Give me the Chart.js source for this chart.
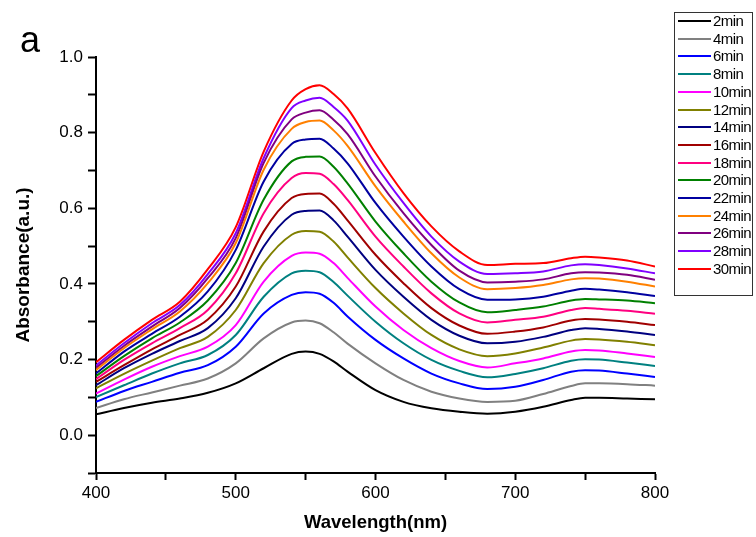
<!DOCTYPE html>
<html>
<head>
<meta charset="utf-8">
<title>Absorbance spectra</title>
<script src="https://cdn.jsdelivr.net/npm/chart.js@4.4.1/dist/chart.umd.min.js"></script>
<style>
  body { margin: 0; background: #fff; }
  #wrap { position: relative; width: 756px; height: 537px; font-family: "Liberation Sans", Arial, sans-serif; }
  #panel { position: absolute; left: 20px; top: 20px; font-size: 36px; line-height: 40px; color: #000; }
  #legend { position: absolute; left: 674px; top: 12px; width: 79px; height: 284px; border: 1px solid #333; box-sizing: border-box; }
  .row { position: absolute; left: 0; height: 18px; width: 80px; }
  .row span.ln { position: absolute; left: 3px; top: 8px; width: 33px; height: 2px; }
  .row span.tx { position: absolute; left: 38px; top: 0; font-size: 15px; line-height: 18px; letter-spacing: -0.55px; color: #000; }
</style>
</head>
<body>
<div id="wrap">
  <canvas id="spectra" width="756" height="537"></canvas>
  <div id="panel">a</div>
  <div id="legend"></div>
</div>
<script>
// wavelength grid (nm)
const wavelengths = [400, 420, 440, 460, 480, 500, 520, 540, 550, 560, 570, 580, 600, 620, 640, 660, 680, 700, 720, 740, 750, 760, 780, 800];

// absorbance, one list per reaction time
const abs2min  = [0.055, 0.072, 0.086, 0.097, 0.112, 0.137, 0.177, 0.215, 0.221, 0.215, 0.195, 0.168, 0.119, 0.088, 0.071, 0.062, 0.057, 0.062, 0.075, 0.093, 0.099, 0.099, 0.097, 0.095];
const abs4min  = [0.072, 0.095, 0.113, 0.131, 0.150, 0.190, 0.256, 0.298, 0.303, 0.296, 0.272, 0.242, 0.190, 0.146, 0.115, 0.097, 0.088, 0.091, 0.109, 0.130, 0.137, 0.137, 0.135, 0.131];
const abs6min  = [0.088, 0.117, 0.141, 0.165, 0.185, 0.234, 0.322, 0.371, 0.378, 0.374, 0.350, 0.314, 0.252, 0.203, 0.163, 0.137, 0.122, 0.128, 0.146, 0.168, 0.172, 0.171, 0.163, 0.154];
const abs8min  = [0.101, 0.132, 0.163, 0.190, 0.212, 0.265, 0.366, 0.428, 0.435, 0.431, 0.405, 0.369, 0.300, 0.243, 0.199, 0.170, 0.153, 0.162, 0.177, 0.197, 0.201, 0.200, 0.192, 0.183];
const abs10min = [0.110, 0.147, 0.181, 0.209, 0.234, 0.291, 0.406, 0.474, 0.483, 0.480, 0.455, 0.416, 0.340, 0.278, 0.230, 0.196, 0.179, 0.190, 0.203, 0.221, 0.225, 0.224, 0.216, 0.207];
const abs12min = [0.124, 0.162, 0.197, 0.230, 0.260, 0.331, 0.455, 0.530, 0.540, 0.538, 0.512, 0.470, 0.389, 0.322, 0.265, 0.227, 0.209, 0.216, 0.232, 0.250, 0.254, 0.253, 0.247, 0.238];
const abs14min = [0.132, 0.177, 0.215, 0.249, 0.283, 0.362, 0.499, 0.583, 0.593, 0.594, 0.568, 0.525, 0.437, 0.366, 0.305, 0.263, 0.243, 0.247, 0.260, 0.278, 0.283, 0.281, 0.274, 0.265];
const abs16min = [0.141, 0.185, 0.227, 0.265, 0.306, 0.393, 0.539, 0.627, 0.638, 0.639, 0.612, 0.568, 0.477, 0.402, 0.336, 0.290, 0.268, 0.274, 0.285, 0.303, 0.307, 0.306, 0.300, 0.291];
const abs18min = [0.148, 0.199, 0.243, 0.283, 0.331, 0.428, 0.587, 0.680, 0.693, 0.691, 0.664, 0.622, 0.525, 0.446, 0.375, 0.322, 0.298, 0.305, 0.313, 0.331, 0.336, 0.334, 0.329, 0.321];
const abs20min = [0.156, 0.209, 0.256, 0.298, 0.356, 0.455, 0.623, 0.724, 0.736, 0.737, 0.710, 0.666, 0.565, 0.481, 0.406, 0.351, 0.325, 0.331, 0.340, 0.356, 0.360, 0.359, 0.356, 0.349];
const abs22min = [0.163, 0.221, 0.268, 0.313, 0.380, 0.490, 0.671, 0.770, 0.782, 0.784, 0.758, 0.719, 0.614, 0.525, 0.446, 0.386, 0.358, 0.359, 0.366, 0.382, 0.387, 0.385, 0.378, 0.368];
const abs24min = [0.172, 0.230, 0.280, 0.327, 0.402, 0.508, 0.702, 0.810, 0.828, 0.832, 0.806, 0.765, 0.658, 0.565, 0.481, 0.417, 0.386, 0.389, 0.397, 0.412, 0.415, 0.414, 0.406, 0.393];
const abs26min = [0.178, 0.236, 0.287, 0.336, 0.415, 0.521, 0.720, 0.835, 0.853, 0.859, 0.834, 0.796, 0.684, 0.587, 0.503, 0.435, 0.404, 0.406, 0.412, 0.428, 0.431, 0.430, 0.424, 0.411];
const abs28min = [0.184, 0.243, 0.296, 0.344, 0.426, 0.534, 0.733, 0.865, 0.885, 0.892, 0.868, 0.832, 0.715, 0.614, 0.525, 0.459, 0.426, 0.428, 0.433, 0.449, 0.452, 0.450, 0.441, 0.428];
const abs30min = [0.193, 0.252, 0.305, 0.353, 0.439, 0.550, 0.750, 0.885, 0.915, 0.925, 0.902, 0.864, 0.746, 0.640, 0.552, 0.486, 0.450, 0.453, 0.455, 0.468, 0.472, 0.470, 0.462, 0.446];

const seriesLabels = ["2min", "4min", "6min", "8min", "10min", "12min", "14min", "16min", "18min", "20min", "22min", "24min", "26min", "28min", "30min"];
const seriesValues = [abs2min, abs4min, abs6min, abs8min, abs10min, abs12min, abs14min, abs16min, abs18min, abs20min, abs22min, abs24min, abs26min, abs28min, abs30min];
const seriesColors = ["#000000", "#808080", "#0000FF", "#008080", "#FF00FF", "#808000", "#000080", "#A00000", "#FF0080", "#008000", "#0000A0", "#FF8000", "#800080", "#8000FF", "#FF0000"];

const xTicks = [400, 500, 600, 700, 800];
const yTicks = [0.0, 0.2, 0.4, 0.6, 0.8, 1.0];

// --------------------
// DATASETS
// --------------------
const datasets = seriesLabels.map((label, i) => ({
  label: label,
  data: wavelengths.map((w, j) => ({ x: w, y: seriesValues[i][j] })),
  borderColor: seriesColors[i],
  backgroundColor: seriesColors[i],
  borderWidth: 2,
  pointRadius: 0,
  fill: false,
  cubicInterpolationMode: "monotone",
}));

// --------------------
// LEGEND (html box on the right)
// --------------------
const legendBox = document.getElementById("legend");
seriesLabels.forEach((label, i) => {
  const row = document.createElement("div");
  row.className = "row";
  row.style.top = (-1 + i * 17.7) + "px";
  row.innerHTML = `<span class="ln" style="background:${seriesColors[i]}"></span><span class="tx">${label}</span>`;
  legendBox.appendChild(row);
});

// --------------------
// CHART
// --------------------
const font = "'Liberation Sans', Arial, sans-serif";
const ctx = document.getElementById("spectra").getContext("2d");
new Chart(ctx, {
  type: "line",
  data: { datasets: datasets },
  options: {
    responsive: false,
    animation: false,
    layout: { padding: { left: 0, top: 57, right: 101, bottom: 0 } },
    plugins: { legend: { display: false }, tooltip: { enabled: false } },
    scales: {
      x: {
        type: "linear",
        min: 400,
        max: 800,
        afterFit: (s) => { s.height = 64; },
        border: { display: true, color: "#000", width: 2 },
        grid: { drawOnChartArea: false, drawTicks: true, tickLength: 7, tickColor: "#000", tickWidth: 2 },
        ticks: {
          stepSize: 50,
          padding: 3,
          color: "#000",
          font: { family: font, size: 17 },
          maxRotation: 0,
          callback: (v) => (xTicks.includes(v) ? String(v) : ""),
        },
        title: { display: true, text: "Wavelength(nm)", color: "#000", font: { family: font, size: 18.5, weight: "bold" }, padding: { top: 0, bottom: 3 } },
      },
      y: {
        min: -0.1,
        max: 1.0,
        afterFit: (s) => { s.width = 96; },
        border: { display: true, color: "#000", width: 2 },
        grid: { drawOnChartArea: false, drawTicks: true, tickLength: 8, tickColor: "#000", tickWidth: 2 },
        ticks: {
          stepSize: 0.1,
          padding: 5,
          color: "#000",
          font: { family: font, size: 17 },
          callback: (v) => {
            const r = Math.round(v * 10) / 10;
            return yTicks.some((t) => Math.abs(t - r) < 1e-6) ? r.toFixed(1) : "";
          },
        },
        title: { display: true, text: "Absorbance(a.u.)", color: "#000", font: { family: font, size: 19, weight: "bold" }, padding: { top: 12, bottom: 0 } },
      },
    },
  },
});
</script>
</body>
</html>
